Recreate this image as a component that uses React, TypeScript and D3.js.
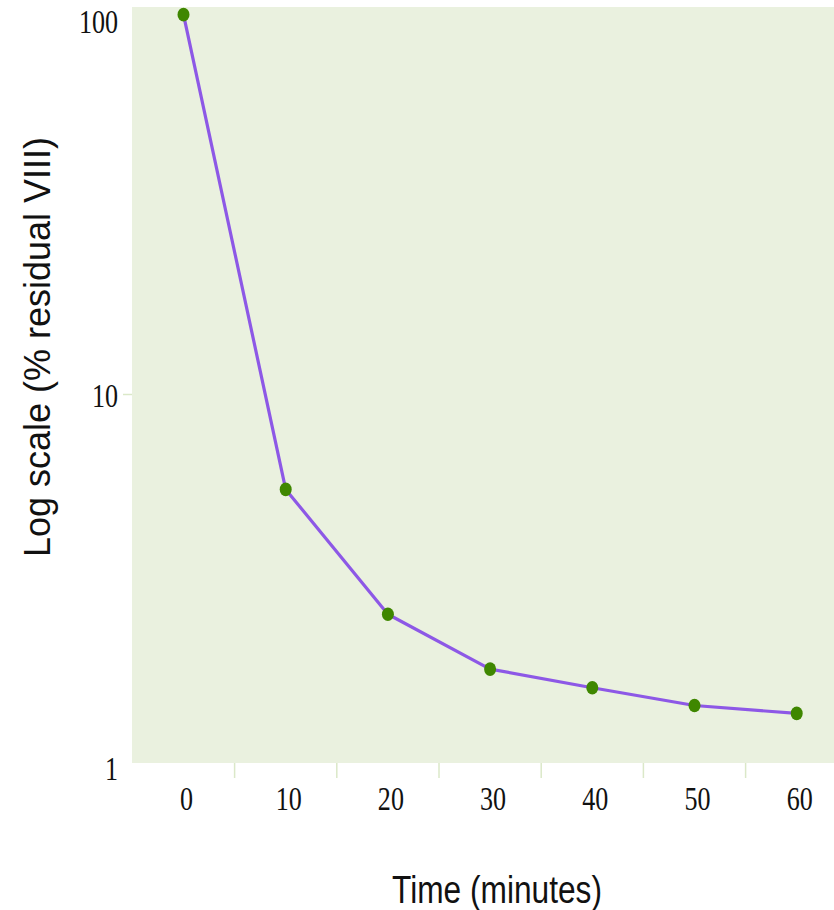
import React from "react";
import * as d3 from "d3";

// Decay of residual factor VIII over time
const times = [0, 10, 20, 30, 40, 50, 60];
const residual = [104, 5.57, 2.58, 1.84, 1.64, 1.47, 1.4];
const yTickValues = [1, 10, 100];
const xTickLabels = ["0", "10", "20", "30", "40", "50", "60"];
const minorXTicks = [5, 15, 25, 35, 45, 55];

const W = 834;
const H = 910;
const plot = { left: 132, top: 7, right: 834, bottom: 763 };

export default function App() {
  const x = d3.scaleLinear().domain([0, 60]).range([183.5, 796.7]);
  const y = d3.scaleLog().domain([1, 100]).range([768, 21]);

  const pts = times.map((t, i) => [x(t), y(residual[i])] as [number, number]);
  const line = d3.line<[number, number]>()(pts) || "";

  const serif = "'Liberation Serif', 'Times New Roman', serif";
  const sans = "'Liberation Sans', Arial, sans-serif";

  return (
    <svg
      width={W}
      height={H}
      style={{ position: "absolute", left: 0, top: 0, background: "#ffffff" }}
    >
      <rect
        x={plot.left}
        y={plot.top}
        width={plot.right - plot.left}
        height={plot.bottom - plot.top}
        fill="#eaf1df"
      />
      {/* minor ticks below the x axis */}
      {minorXTicks.map((t) => (
        <line
          key={t}
          x1={x(t)}
          x2={x(t)}
          y1={plot.bottom}
          y2={plot.bottom + 15}
          stroke="#dbe8c8"
          strokeWidth={1.5}
        />
      ))}
      {/* y tick at 10 */}
      <line x1={123} x2={plot.left} y1={y(10)} y2={y(10)} stroke="#dbe8c8" strokeWidth={1.5} />

      {yTickValues.map((v) => (
        <g key={v} transform={`translate(118,${y(v) + 12}) scale(0.79,1)`}>
          <text textAnchor="end" fontFamily={serif} fontSize={33} fill="#111">
            {String(v)}
          </text>
        </g>
      ))}
      {times.map((t, i) => (
        <g key={t} transform={`translate(${x(t) + 3},810) scale(0.79,1)`}>
          <text textAnchor="middle" fontFamily={serif} fontSize={33} fill="#111">
            {xTickLabels[i]}
          </text>
        </g>
      ))}

      <path d={line} fill="none" stroke="#8d58e6" strokeWidth={3.2} strokeLinejoin="round" />
      {pts.map((p, i) => (
        <ellipse key={i} cx={p[0]} cy={p[1]} rx={6} ry={6.8} fill="#3f8700" />
      ))}

      <text
        transform="translate(50,347) rotate(-90)"
        textAnchor="middle"
        fontFamily={sans}
        fontSize={36}
        fill="#111"
      >
        Log scale (% residual VIII)
      </text>
      <text
        x={392}
        y={903}
        fontFamily={sans}
        fontSize={38}
        textLength={210}
        lengthAdjust="spacingAndGlyphs"
        fill="#111"
      >
        Time (minutes)
      </text>
    </svg>
  );
}
